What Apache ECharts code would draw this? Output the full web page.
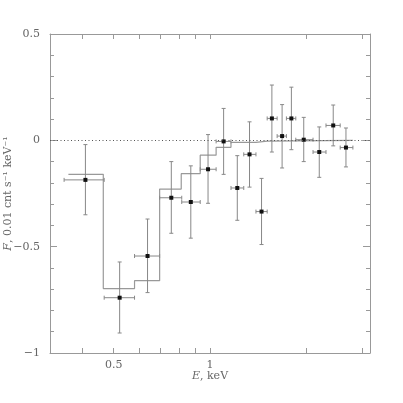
<!DOCTYPE html>
<html>
<head>
<meta charset="utf-8">
<script src="https://cdn.jsdelivr.net/npm/echarts@6/dist/echarts.min.js"></script>
<style>
  html, body { margin: 0; padding: 0; background: #fff; }
  #chart { width: 403px; height: 403px; }
</style>
</head>
<body>
<div id="chart"></div>
<script>
// 数据点: 能量 (keV), 能道边界, 流量及误差
var energy = [0.408, 0.522, 0.638, 0.757, 0.871, 0.986, 1.103, 1.217, 1.329, 1.449, 1.561, 1.680, 1.796, 1.963, 2.195, 2.427, 2.660];
var energyLo = [0.350, 0.467, 0.581, 0.696, 0.816, 0.932, 1.045, 1.163, 1.275, 1.392, 1.509, 1.621, 1.733, 1.854, 2.099, 2.304, 2.552];
var energyHi = [0.467, 0.581, 0.696, 0.816, 0.932, 1.045, 1.163, 1.275, 1.392, 1.509, 1.621, 1.733, 1.854, 2.099, 2.304, 2.552, 2.796];
var flux = [-0.186, -0.740, -0.544, -0.270, -0.290, -0.136, -0.005, -0.224, -0.066, -0.335, 0.103, 0.020, 0.103, 0.003, -0.055, 0.070, -0.034];
var fluxLo = [-0.350, -0.906, -0.716, -0.437, -0.460, -0.296, -0.160, -0.376, -0.220, -0.490, -0.055, -0.130, -0.044, -0.100, -0.174, -0.026, -0.125];
var fluxHi = [-0.020, -0.572, -0.370, -0.100, -0.120, 0.027, 0.150, -0.072, 0.087, -0.179, 0.260, 0.168, 0.250, 0.108, 0.063, 0.166, 0.058];

// 模型阶梯线
var modelEdges = [0.361, 0.464, 0.581, 0.696, 0.813, 0.932, 1.045, 1.163, 1.392, 1.509, 2.796];
var modelValues = [-0.160, -0.697, -0.660, -0.229, -0.157, -0.070, -0.033, -0.010, -0.004, 0.000];

// 刻度
var xTicks = [0.4, 0.5, 0.6, 0.7, 0.8, 0.9, 1, 2, 3];
var xLabels = [0.5, 1];

(function () {
  var myChart = echarts.init(document.getElementById("chart"));

  var points = [];
  for (var i = 0; i < energy.length; i++) {
    points.push([energy[i], flux[i], energyLo[i], energyHi[i], fluxLo[i], fluxHi[i]]);
  }
  var modelData = [];
  for (var j = 0; j < modelValues.length; j++) {
    modelData.push([modelEdges[j], modelValues[j]]);
    modelData.push([modelEdges[j + 1], modelValues[j]]);
  }

  var font = "DejaVu Serif";
  var axisColor = "#999";
  var textColor = "#666";

  function xAxisOf(pos) {
    return {
      type: "log",
      position: pos,
      min: Math.pow(10, -0.5),
      max: Math.pow(10, 0.5),
      axisLine: { show: true, onZero: false, lineStyle: { color: axisColor, width: 1 } },
      axisTick: { show: true, inside: true, length: 5, customValues: xTicks, lineStyle: { color: axisColor } },
      axisLabel: {
        show: pos === "bottom",
        customValues: xLabels,
        margin: 7,
        color: textColor,
        fontFamily: font,
        fontSize: 11,
      },
      splitLine: { show: false },
      minorTick: { show: false },
    };
  }

  function yAxisOf(pos) {
    return {
      type: "value",
      position: pos,
      min: -1,
      max: 0.5,
      interval: 0.5,
      axisLine: { show: true, onZero: false, lineStyle: { color: axisColor, width: 1 } },
      axisTick: { show: true, inside: true, length: 7, lineStyle: { color: axisColor } },
      minorTick: { show: true, splitNumber: 5, length: 4, lineStyle: { color: axisColor } },
      axisLabel: {
        show: pos === "left",
        margin: 10,
        color: textColor,
        fontFamily: font,
        fontSize: 11,
        formatter: function (v) {
          return v < 0 ? "\u2212" + Math.abs(v) : String(v);
        },
      },
      splitLine: { show: false },
    };
  }

  var xa = xAxisOf("bottom");
  xa.name = "{i|E}, keV";
  xa.nameLocation = "middle";
  xa.nameGap = 18;
  xa.nameMoveOverlap = false;
  xa.nameTextStyle = {
    color: textColor,
    fontFamily: font,
    fontSize: 11,
    rich: { i: { fontStyle: "italic", fontFamily: font, fontSize: 11, color: textColor } },
  };

  var ya = yAxisOf("left");
  ya.name = "{i|F}, 0.01 cnt s\u207B\u00B9 keV\u207B\u00B9";
  ya.nameLocation = "middle";
  ya.nameGap = 36;
  ya.nameMoveOverlap = false;
  ya.nameTextStyle = {
    color: textColor,
    fontFamily: font,
    fontSize: 11,
    rich: { i: { fontStyle: "italic", fontFamily: font, fontSize: 11, color: textColor } },
  };

  var option = {
    animation: false,
    backgroundColor: "#fff",
    grid: { left: 50, right: 33, top: 34, bottom: 50, containLabel: false, outerBoundsMode: "none" },
    xAxis: [xa, xAxisOf("top")],
    yAxis: [ya, yAxisOf("right")],
    series: [
      {
        type: "line",
        data: modelData,
        symbol: "none",
        lineStyle: { color: "#999", width: 1.2 },
        z: 2,
        markLine: {
          silent: true,
          symbol: "none",
          label: { show: false },
          lineStyle: { color: "#555", type: [1, 2.5], width: 1 },
          data: [{ yAxis: 0 }],
        },
      },
      {
        type: "custom",
        data: points,
        encode: { x: 0, y: 1 },
        z: 3,
        renderItem: function (params, api) {
          var c = api.coord([api.value(0), api.value(1)]);
          var lo = api.coord([api.value(0), api.value(4)]);
          var hi = api.coord([api.value(0), api.value(5)]);
          var l = api.coord([api.value(2), api.value(1)]);
          var r = api.coord([api.value(3), api.value(1)]);
          var st = { stroke: "#888", lineWidth: 1 };
          var cap = 2;
          return {
            type: "group",
            children: [
              { type: "line", shape: { x1: lo[0], y1: lo[1], x2: hi[0], y2: hi[1] }, style: st },
              { type: "line", shape: { x1: lo[0] - cap, y1: lo[1], x2: lo[0] + cap, y2: lo[1] }, style: st },
              { type: "line", shape: { x1: hi[0] - cap, y1: hi[1], x2: hi[0] + cap, y2: hi[1] }, style: st },
              { type: "line", shape: { x1: l[0], y1: l[1], x2: r[0], y2: r[1] }, style: st },
              { type: "line", shape: { x1: l[0], y1: l[1] - cap, x2: l[0], y2: l[1] + cap }, style: st },
              { type: "line", shape: { x1: r[0], y1: r[1] - cap, x2: r[0], y2: r[1] + cap }, style: st },
              { type: "rect", shape: { x: c[0] - 2, y: c[1] - 2, width: 4, height: 4 }, style: { fill: "#111" } },
            ],
          };
        },
      },
    ],
  };
  myChart.setOption(option);
})();
</script>
</body>
</html>
